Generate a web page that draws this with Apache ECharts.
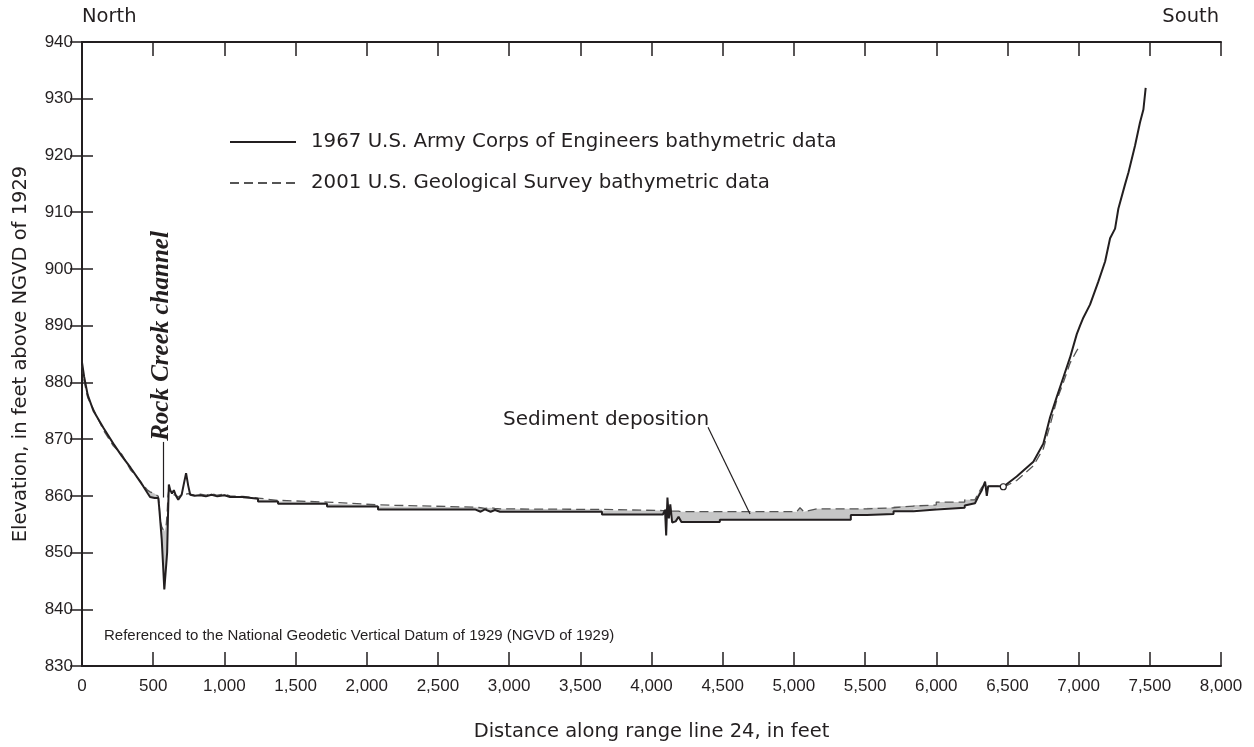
<!DOCTYPE html>
<html>
<head>
<meta charset="utf-8">
<script src="https://cdn.jsdelivr.net/npm/echarts@6/dist/echarts.min.js"></script>
<style>
html,body{margin:0;padding:0;background:#fff;}
#chart{width:1254px;height:747px;}
</style>
</head>
<body>
<div id="chart"></div>
<script>
// Distance along range line 24 (feet) — shared grid for both surveys
var distance = [0,15,40,80,150,220,280,340,400,430,460,478,510,536,542,550,560,570,578,585,592,598,604,610,620,632,645,660,676,700,716,731,746,760,790,830,870,910,950,1000,1040,1130,1130,1236,1236,1377,1377,1721,1721,2079,2079,2760,2800,2830,2870,2900,2936,3652,3652,4080,4095,4103,4112,4122,4132,4145,4170,4190,4210,4480,4480,5020,5043,5070,5160,5400,5400,5513,5513,5700,5700,5840,5840,6000,6000,6200,6200,6272,6296,6320,6343,6355,6365,6448,6471,6565,6682,6752,6800,6846,6893,6940,6987,7010,7033,7080,7139,7186,7221,7256,7279,7326,7350,7396,7431,7455,7471];
// 1967 U.S. Army Corps of Engineers bathymetric data (elevation, ft)
var elev1967 = [883.5,881.0,877.8,875.0,872.0,869.2,867.0,865.0,862.8,861.7,860.5,859.8,859.6,859.6,858.0,855.5,852.3,847.5,843.5,843.6,848.0,850.0,856.5,862.0,861.0,860.4,861.0,860.0,859.3,860.2,862.2,864.0,861.8,860.2,860.0,860.1,859.9,860.2,859.9,860.1,859.8,859.8,859.5,859.5,859.0,859.0,858.6,858.6,858.1,858.1,857.6,857.6,857.2,857.6,857.2,857.5,857.2,857.2,856.7,856.7,857.5,853.0,859.7,856.0,858.5,855.3,855.5,856.3,855.4,855.4,855.8,855.8,855.8,855.8,855.8,855.8,856.6,856.6,856.8,856.8,857.3,857.3,857.6,857.6,857.9,857.9,858.3,858.7,859.9,861.0,862.5,860.0,861.7,861.7,861.6,863.4,866.0,869.2,873.9,877.4,880.9,884.4,888.5,890.0,891.4,893.7,897.8,901.3,905.4,907.1,910.6,914.9,917.0,921.7,925.8,928.1,931.9];
// 2001 U.S. Geological Survey bathymetric data (elevation, ft); null = not surveyed
var elev2001 = [883.0,880.2,877.3,875.3,871.6,868.8,867.3,864.6,862.9,861.9,861.0,860.7,860.4,859.9,858.5,855.5,854.6,854.0,853.7,854.3,855.0,857.0,860.0,861.0,861.2,860.3,860.6,860.1,859.8,860.2,860.3,860.3,860.4,860.4,860.1,860.3,860.1,860.4,860.1,860.3,860.0,859.9,859.8,859.6,859.4,859.2,859.0,858.9,858.6,858.4,858.1,858.0,857.9,857.8,857.9,857.8,857.7,857.6,857.4,857.4,857.4,857.4,857.8,857.3,857.4,857.3,857.3,857.3,857.2,857.2,857.2,857.2,857.9,857.2,857.7,857.7,857.7,857.7,857.9,857.9,858.2,858.2,858.4,858.4,858.9,858.9,859.3,859.3,860.5,861.5,862.0,861.8,861.7,861.7,861.5,862.7,865.3,868.3,872.5,876.8,880.0,883.4,885.6,886.4,null,null,null,null,null,null,null,null,null,null,null,null,null];
// small open-circle survey mark on the 1967 profile
var surveyMark = [6471, 861.6];

var xTicks = {min: 0, max: 8000, interval: 500};
var yTicks = {min: 830, max: 940, interval: 10};

var seriesNames = ['1967 U.S. Army Corps of Engineers bathymetric data', '2001 U.S. Geological Survey bathymetric data'];

function pairs(ys){
  var out = [];
  for (var i = 0; i < distance.length; i++) { if (ys[i] != null) out.push([distance[i], ys[i]]); }
  return out;
}

var INK = '#231f20';
var TICKFONT = "'Liberation Sans',Arial,sans-serif";
var WIDE = "'DejaVu Sans',sans-serif";

var chart = echarts.init(document.getElementById('chart'), null, {renderer: 'canvas'});

var axisLineStyle = {lineStyle: {color: INK, width: 2}};

chart.setOption({
  animation: false,
  backgroundColor: '#fff',
  grid: {left: 82, right: 33, top: 42, bottom: 76, containLabel: false},
  legend: {
    data: seriesNames,
    orient: 'vertical',
    left: 229, top: 130,
    itemWidth: 66, itemHeight: 14, itemGap: 17,
    padding: 0,
    itemStyle: {color: 'rgba(0,0,0,0)', borderWidth: 0, opacity: 0},
    textStyle: {fontFamily: WIDE, fontSize: 19.8, color: INK, lineHeight: 24, padding: [0, 0, 0, 10]},
    selectedMode: false
  },
  xAxis: [{
    type: 'value', position: 'bottom', min: xTicks.min, max: xTicks.max, interval: xTicks.interval,
    axisLine: axisLineStyle,
    axisTick: {inside: true, length: 14, lineStyle: {color: INK, width: 1.5}},
    axisLabel: {fontFamily: TICKFONT, fontSize: 17, color: INK, margin: 12,
      formatter: function(v){ return v.toLocaleString('en-US'); }},
    splitLine: {show: false},
    name: 'Distance along range line 24, in feet', nameLocation: 'middle', nameGap: 56,
    nameTextStyle: {fontFamily: WIDE, fontSize: 19.5, color: INK}
  }, {
    type: 'value', position: 'top', min: xTicks.min, max: xTicks.max, interval: xTicks.interval,
    axisLine: axisLineStyle,
    axisTick: {inside: true, length: 14, lineStyle: {color: INK, width: 1.5}},
    axisLabel: {show: false}, splitLine: {show: false}
  }],
  yAxis: [{
    type: 'value', position: 'left', min: yTicks.min, max: yTicks.max, interval: yTicks.interval,
    axisLine: axisLineStyle,
    axisTick: {inside: true, length: 11, lineStyle: {color: INK, width: 1.5}},
    axisLabel: {fontFamily: TICKFONT, fontSize: 17, color: INK, margin: 9},
    splitLine: {show: false},
    name: 'Elevation, in feet above NGVD of 1929', nameLocation: 'middle', nameGap: 51, nameRotate: 90,
    nameTextStyle: {fontFamily: WIDE, fontSize: 19.5, color: INK}
  }, {
    type: 'value', position: 'right', min: yTicks.min, max: yTicks.max, interval: yTicks.interval,
    axisLine: axisLineStyle,
    axisTick: {inside: true, length: 12, lineStyle: {color: INK, width: 1.5}},
    axisLabel: {show: false}, splitLine: {show: false}
  }],
  series: [{
    type: 'custom',
    name: 'Sediment deposition',
    silent: true,
    z: 1,
    clip: true,
    xAxisIndex: 0, yAxisIndex: 0,
    data: [[0, 860]],
    renderItem: function(params, api){
      var top = [], bot = [];
      for (var i = 0; i < distance.length; i++) {
        var a = elev1967[i], b = elev2001[i];
        var t = (b == null) ? a : Math.max(a, b);
        top.push(api.coord([distance[i], t]));
        bot.push(api.coord([distance[i], a]));
      }
      return {type: 'polygon', shape: {points: top.concat(bot.reverse())},
              style: {fill: '#c6c6c6', stroke: null}};
    }
  }, {
    type: 'line',
    name: seriesNames[1],
    data: pairs(elev2001),
    symbol: 'none', showSymbol: false, z: 3,
    itemStyle: {color: '#555'},
    lineStyle: {color: '#555', width: 1.3, type: [9, 5]}
  }, {
    type: 'line',
    name: seriesNames[0],
    data: pairs(elev1967),
    symbol: 'none', showSymbol: false, z: 4,
    itemStyle: {color: INK},
    lineStyle: {color: INK, width: 2},
    markPoint: {
      silent: true, symbol: 'circle', symbolSize: 6,
      itemStyle: {color: '#fff', borderColor: INK, borderWidth: 1.2},
      label: {show: false},
      data: [{coord: surveyMark}]
    },
    markLine: {
      silent: true, symbol: 'none', label: {show: false},
      lineStyle: {color: INK, width: 1.2, type: 'solid'},
      data: [
        [{coord: [571, 869.5]}, {coord: [571, 859.7]}],
        [{coord: [4397, 872.1]}, {coord: [4692, 856.8]}]
      ]
    }
  }],
  graphic: [
    {type: 'text', x: 82, y: 17, style: {text: 'North', font: '19.5px ' + WIDE, fill: INK, align: 'left', verticalAlign: 'middle'}},
    {type: 'text', x: 1219, y: 17, style: {text: 'South', font: '19.5px ' + WIDE, fill: INK, align: 'right', verticalAlign: 'middle'}},
    {type: 'text', x: 162, y: 336, rotation: Math.PI / 2,
      style: {text: 'Rock Creek channel', font: 'italic bold 25px "Liberation Serif", "DejaVu Serif", serif', fill: INK, align: 'center', verticalAlign: 'middle'}},
    {type: 'text', x: 503, y: 420, style: {text: 'Sediment deposition', font: '20px ' + WIDE, fill: INK, align: 'left', verticalAlign: 'middle'}},
    {type: 'text', x: 104, y: 636, style: {text: 'Referenced to the National Geodetic Vertical Datum of 1929 (NGVD of 1929)', font: '15px ' + TICKFONT, fill: INK, align: 'left', verticalAlign: 'middle'}}
  ]
});
</script>
</body>
</html>
